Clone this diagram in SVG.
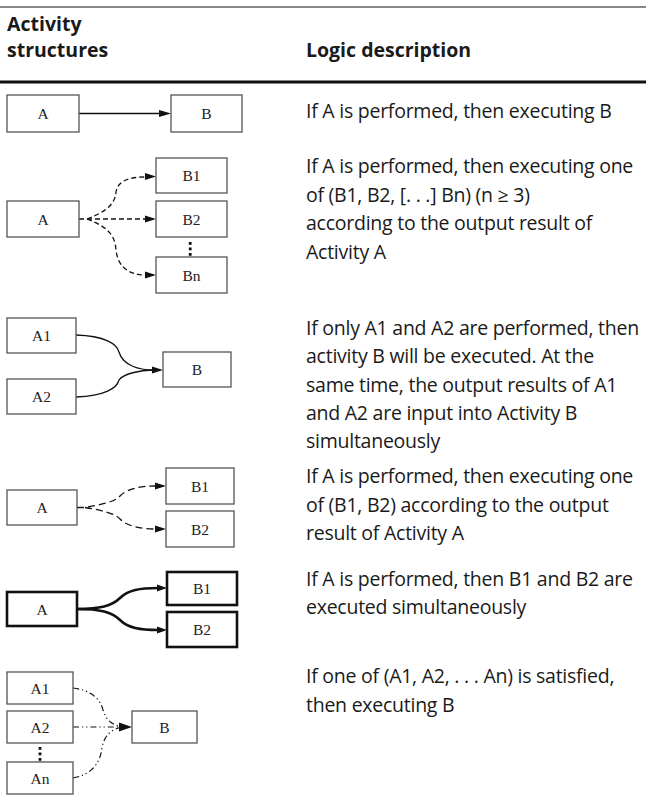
<svg xmlns="http://www.w3.org/2000/svg" width="646" height="811" viewBox="0 0 646 811">
<defs>
<style>
.box{fill:#fff;stroke:#555;stroke-width:1.3}
.tbox{fill:#fff;stroke:#111;stroke-width:2.6}
.lbl{font-family:"Liberation Serif","Times New Roman",serif;font-size:15.5px;fill:#222;text-anchor:middle}
.txt{font-family:"Open Sans","Noto Sans",sans-serif;font-size:19.5px;letter-spacing:-0.25px;fill:#1a1a1a}
.hdr{font-family:"Open Sans","Noto Sans",sans-serif;font-size:19.5px;font-weight:bold;fill:#1a1a1a}
.solid{fill:none;stroke:#111;stroke-width:1.3}
.dash{fill:none;stroke:#111;stroke-width:1.3;stroke-dasharray:5 3}
.ldash{fill:none;stroke:#111;stroke-width:1.3;stroke-dasharray:7 4}
.thick{fill:none;stroke:#111;stroke-width:2.6}
.dd{fill:none;stroke:#111;stroke-width:1.2;stroke-dasharray:6 3 1.2 3 1.2 3}
.head{fill:#111}
.dot{fill:#111}
</style>
</defs>
<g id="table-lines">
<line x1="0" y1="7" x2="646" y2="7" stroke="#111" stroke-width="1"/>
<line x1="0" y1="82" x2="646" y2="82" stroke="#111" stroke-width="2.8"/>
</g>
<g id="header">
<text class="hdr" x="7" y="31">Activity</text>
<text class="hdr" x="7" y="57">structures</text>
<text class="hdr" x="306" y="57">Logic description</text>
</g>

<g id="connectors">
<!-- row 1 -->
<line class="solid" x1="79" y1="113.5" x2="160" y2="113.5"/>
<polygon class="head" points="171,113.5 159,110 159,117"/>
<!-- row 2 -->
<path class="dash" d="M79,219 L87,219 C105,212 115,205 116,192 C118,180 130,177 146,177"/>
<path class="dash" d="M87,219 L146,219"/>
<path class="dash" d="M87,219 C105,226 115,233 116,250 C118,268 130,275 146,275"/>
<polygon class="head" points="156,176.5 145,173 145,180"/>
<polygon class="head" points="156,219 145,215.5 145,222.5"/>
<polygon class="head" points="156,275 145,271.5 145,278.5"/>
<!-- row 3 -->
<path class="solid" d="M76,335 C105,336 117,344 119,352 C123,366 140,370 153,370"/>
<path class="solid" d="M76,397 C105,396 117,388 119,380 C123,374 140,370 153,370"/>
<polygon class="head" points="163,370 152,366.5 152,373.5"/>
<!-- row 4 -->
<path class="ldash" d="M77,507.5 L85,507.5 C100,505 115,502 120,496 C127,489 140,486 155,486"/>
<path class="ldash" d="M85,507.5 C100,510 115,513 120,519 C127,526 140,529 155,529"/>
<polygon class="head" points="166,486 155,482.5 155,489.5"/>
<polygon class="head" points="166,529 155,525.5 155,532.5"/>
<!-- row 5 -->
<path class="thick" d="M77,609 C100,609 112,606 120,598 C128,590 140,588 158,588"/>
<path class="thick" d="M77,609 C100,609 112,612 120,620 C128,628 140,630 158,630"/>
<polygon class="head" points="167,588 157,584.5 157,591.5"/>
<polygon class="head" points="167,630 157,626.5 157,633.5"/>
<!-- row 6 -->
<path class="dd" d="M73,688 C90,690 100,698 103,710 C106,720 112,725 121,726.5"/>
<path class="dd" d="M73,727 L121,727"/>
<path class="dd" d="M73,778 C90,775 100,765 102,748 C104,735 112,729 121,727.5"/>
<polygon class="head" points="132,727 119,722.5 119,731.5"/>
</g>

<g id="row1">
<g id="r1-A"><rect class="box" x="7" y="95" width="72" height="37"/><text class="lbl" x="43" y="119">A</text></g>
<g id="r1-B"><rect class="box" x="171" y="95" width="71" height="37"/><text class="lbl" x="206.5" y="119">B</text></g>
<text class="txt" x="306" y="118">If A is performed, then executing B</text>
</g>

<g id="row2">
<g id="r2-A"><rect class="box" x="7" y="201" width="72" height="36"/><text class="lbl" x="43" y="224.5">A</text></g>
<g id="r2-B1"><rect class="box" x="156" y="158" width="71" height="35"/><text class="lbl" x="191.5" y="181">B1</text></g>
<g id="r2-B2"><rect class="box" x="156" y="201" width="71" height="36"/><text class="lbl" x="191.5" y="224.5">B2</text></g>
<g id="r2-dots"><rect class="dot" x="188.8" y="242" width="2.8" height="2.8"/><rect class="dot" x="188.8" y="247.5" width="2.8" height="2.8"/><rect class="dot" x="188.8" y="253" width="2.8" height="2.8"/></g>
<g id="r2-Bn"><rect class="box" x="156" y="257" width="71" height="36"/><text class="lbl" x="191.5" y="280.5">Bn</text></g>
<text class="txt" x="306" y="173">If A is performed, then executing one</text>
<text class="txt" x="306" y="201.5">of (B1, B2, [. . .] Bn) (n ≥ 3)</text>
<text class="txt" x="306" y="230">according to the output result of</text>
<text class="txt" x="306" y="258.5">Activity A</text>
</g>

<g id="row3">
<g id="r3-A1"><rect class="box" x="7" y="318" width="69" height="35"/><text class="lbl" x="41.5" y="341">A1</text></g>
<g id="r3-A2"><rect class="box" x="7" y="379" width="69" height="35"/><text class="lbl" x="41.5" y="402">A2</text></g>
<g id="r3-B"><rect class="box" x="163" y="352" width="68" height="35"/><text class="lbl" x="197" y="375">B</text></g>
<text class="txt" x="306" y="335">If only A1 and A2 are performed, then</text>
<text class="txt" x="306" y="363">activity B will be executed. At the</text>
<text class="txt" x="306" y="391.5">same time, the output results of A1</text>
<text class="txt" x="306" y="420">and A2 are input into Activity B</text>
<text class="txt" x="306" y="447.5">simultaneously</text>
</g>

<g id="row4">
<g id="r4-A"><rect class="box" x="7" y="490" width="70" height="35"/><text class="lbl" x="42" y="513">A</text></g>
<g id="r4-B1"><rect class="box" x="166" y="468" width="68" height="36"/><text class="lbl" x="200" y="491.5">B1</text></g>
<g id="r4-B2"><rect class="box" x="166" y="511" width="68" height="36"/><text class="lbl" x="200" y="534.5">B2</text></g>
<text class="txt" x="306" y="483">If A is performed, then executing one</text>
<text class="txt" x="306" y="511.5">of (B1, B2) according to the output</text>
<text class="txt" x="306" y="539.5">result of Activity A</text>
</g>

<g id="row5">
<g id="r5-A"><rect class="tbox" x="7" y="592" width="70" height="34"/><text class="lbl" x="42" y="614.5">A</text></g>
<g id="r5-B1"><rect class="tbox" x="167" y="572" width="70" height="33"/><text class="lbl" x="202" y="593.5">B1</text></g>
<g id="r5-B2"><rect class="tbox" x="167" y="612" width="70" height="35"/><text class="lbl" x="202" y="634.5">B2</text></g>
<text class="txt" x="306" y="586">If A is performed, then B1 and B2 are</text>
<text class="txt" x="306" y="614">executed simultaneously</text>
</g>

<g id="row6">
<g id="r6-A1"><rect class="box" x="7" y="672" width="66" height="32"/><text class="lbl" x="40" y="693.5">A1</text></g>
<g id="r6-A2"><rect class="box" x="7" y="711" width="66" height="32"/><text class="lbl" x="40" y="732.5">A2</text></g>
<g id="r6-dots"><rect class="dot" x="38.6" y="747" width="2.8" height="2.8"/><rect class="dot" x="38.6" y="752.5" width="2.8" height="2.8"/><rect class="dot" x="38.6" y="758" width="2.8" height="2.8"/></g>
<g id="r6-An"><rect class="box" x="7" y="762" width="66" height="32"/><text class="lbl" x="40" y="783.5">An</text></g>
<g id="r6-B"><rect class="box" x="132" y="711" width="65" height="32"/><text class="lbl" x="164.5" y="732.5">B</text></g>
<text class="txt" x="306" y="683">If one of (A1, A2, . . . An) is satisfied,</text>
<text class="txt" x="306" y="712">then executing B</text>
</g>
</svg>
